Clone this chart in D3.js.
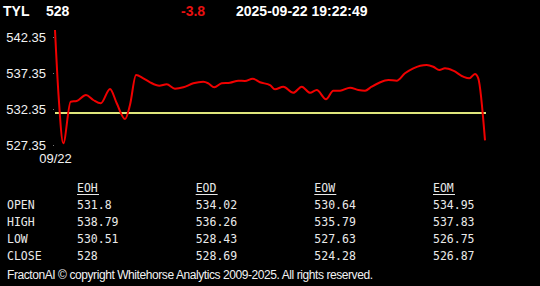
<!DOCTYPE html>
<html>
<head>
<meta charset="utf-8">
<script src="https://cdn.jsdelivr.net/npm/d3@7"></script>
<style>
  html, body { margin: 0; padding: 0; background: #000; }
  svg { display: block; }
  .hdr { font-family: "Liberation Sans", Arial, sans-serif; font-size: 14px; font-weight: bold; fill: #fff; }
  .tick text { font-family: "Liberation Sans", Arial, sans-serif; font-size: 13px; fill: #f2f2f2; }
  .tbl { font-family: "DejaVu Sans Mono", monospace; font-size: 11.5px; fill: #eaeaea; }
  .foot { font-family: "Liberation Sans", Arial, sans-serif; font-size: 12px; fill: #f2f2f2; }
</style>
</head>
<body>
<svg id="chart"></svg>
<script>
// SET VARIABLES
const _width = 540;
const _height = 286;
const _plot = {left: 55, right: 485, top: 37, bottom: 145};

// DATA
const symbol = "TYL";
const lastPrice = 528;
const change = -3.8;
const stamp = "2025-09-22 19:22:49";
const prevClose = 531.8;
const dateLabel = "09/22";
const yTicks = [542.35, 537.35, 532.35, 527.35];

// minutes from session open, price
const minutes = [0, 3.2, 7.5, 14.2, 19.7, 28.1, 34.7, 41.5, 49.9, 56, 63.5, 68, 73.5, 80.1, 86.2, 94.6,
                 101.3, 108.8, 116.4, 125.4, 134.5, 139, 144.5, 151.2, 158.7, 166.3, 172.3, 179.3, 185.9, 195,
                 199.5, 207.1, 216.1, 223.8, 231.3, 237.4, 245.8, 252.4, 258.5, 267.6, 275.1, 281.2, 287.2, 294.1,
                 302.3, 309.9, 317.4, 325, 337.1, 343.1, 348.6, 353.7, 361.2, 370.3, 375.8, 380.9, 383.9, 390];
const prices = [543.32, 534.29, 527.59, 533.36, 533.46, 534.29, 533.6, 533.14, 535.13, 533.14, 530.96, 532.91, 537.07, 536.61, 536.06, 535.59,
                535.78, 535.17, 535.36, 535.92, 536.14, 535.92, 535.36, 535.92, 536.0, 536.28, 536.24, 536.56, 536.06, 535.68,
                535.09, 535.45, 534.61, 535.45, 534.61, 534.99, 533.7, 534.89, 534.89, 535.31, 534.99, 534.89, 535.45, 536.0,
                536.38, 536.28, 537.31, 538.0, 538.46, 538.22, 537.77, 538.0, 537.67, 536.84, 536.61, 537.21, 536.61, 528.0];

const rowNames = ["OPEN", "HIGH", "LOW", "CLOSE"];
const colNames = ["EOH", "EOD", "EOW", "EOM"];
const eoh = ["531.8", "538.79", "530.51", "528"];
const eod = ["534.02", "536.26", "528.43", "528.69"];
const eow = ["530.64", "535.79", "527.63", "524.28"];
const eom = ["534.95", "537.83", "526.75", "526.87"];
const footer = "FractonAI \u00A9 copyright Whitehorse Analytics 2009-2025. All rights reserved.";

const series = minutes.map((m, i) => ({t: m, v: prices[i]}));

let svg = d3.select('#chart')
            .attr('width', _width)
            .attr('height', _height);
    svg.append('rect')
          .attr('width', _width)
          .attr('height', _height)
          .attr('fill', '#000');

// HEADER
let header = svg.append('g').attr('class', 'hdr');
    header.append('text').attr('x', 3).attr('y', 16).text(symbol);
    header.append('text').attr('x', 46).attr('y', 16).text(lastPrice);
    header.append('text').attr('x', 181).attr('y', 16).style('fill', '#e81010').text(change);
    header.append('text').attr('x', 236).attr('y', 16).text(stamp);

// SCALES
const x = d3.scaleLinear()
            .domain([0, 390])
            .range([_plot.left, _plot.right]);
const y = d3.scaleLinear()
            .domain([527.35, 542.35])
            .range([_plot.bottom, _plot.top]);

// AXES
let yAxis = svg.append('g')
                .attr('transform', `translate(54, 0)`)
                .call(d3.axisLeft(y).tickValues(yTicks).tickSize(1).tickPadding(7).tickFormat(d => d.toFixed(2)));
    yAxis.select('.domain').remove();
    yAxis.selectAll('line').attr('stroke', '#777');

let xAxis = svg.append('g')
                .attr('transform', `translate(0, ${_plot.bottom})`)
                .call(d3.axisBottom(x).tickValues([0]).tickSize(0).tickPadding(8.5).tickFormat(() => dateLabel));
    xAxis.select('.domain').remove();

// PREVIOUS CLOSE
svg.append('line')
      .attr('x1', x(0))
      .attr('x2', x(390) + 1)
      .attr('y1', y(prevClose))
      .attr('y2', y(prevClose))
      .attr('stroke', '#dfe67c')
      .attr('stroke-width', 2);

// PRICE LINE
const line = d3.line()
                .x(d => x(d.t))
                .y(d => y(d.v))
                .curve(d3.curveMonotoneX);
svg.append('path')
      .datum(series)
      .attr('d', line)
      .attr('fill', 'none')
      .attr('stroke', '#f00000')
      .attr('stroke-width', 2)
      .attr('stroke-linejoin', 'round');

// TABLE
const colX = d3.scalePoint().domain(colNames).range([77, 433]);
const rowY = d3.scalePoint().domain(["HDR"].concat(rowNames)).range([192, 260]);
const cols = [eoh, eod, eow, eom];

let table = svg.append('g').attr('class', 'tbl');
    table.selectAll('text.row')
          .data(rowNames)
            .enter()
          .append('text')
            .attr('class', 'row tbl')
            .attr('x', 7)
            .attr('y', d => rowY(d))
            .text(d => d);
    table.selectAll('text.col')
          .data(colNames)
            .enter()
          .append('text')
            .attr('class', 'col tbl')
            .attr('x', d => colX(d))
            .attr('y', rowY("HDR"))
            .text(d => d);
    table.selectAll('line.ul')
          .data(colNames)
            .enter()
          .append('line')
            .attr('x1', d => colX(d))
            .attr('x2', d => colX(d) + 22)
            .attr('y1', rowY("HDR") + 2.5)
            .attr('y2', rowY("HDR") + 2.5)
            .attr('stroke', '#eaeaea')
            .attr('stroke-width', 1);
    cols.forEach((vals, ci) => {
      table.selectAll(`text.v${ci}`)
            .data(vals)
              .enter()
            .append('text')
              .attr('class', `v${ci} tbl`)
              .attr('x', colX(colNames[ci]))
              .attr('y', (d, i) => rowY(rowNames[i]))
              .text(d => d);
    });

// FOOTER
svg.append('text')
      .attr('class', 'foot')
      .attr('x', 7)
      .attr('y', 279)
      .attr('textLength', 366)
      .attr('lengthAdjust', 'spacing')
      .text(footer);
</script>
</body>
</html>
